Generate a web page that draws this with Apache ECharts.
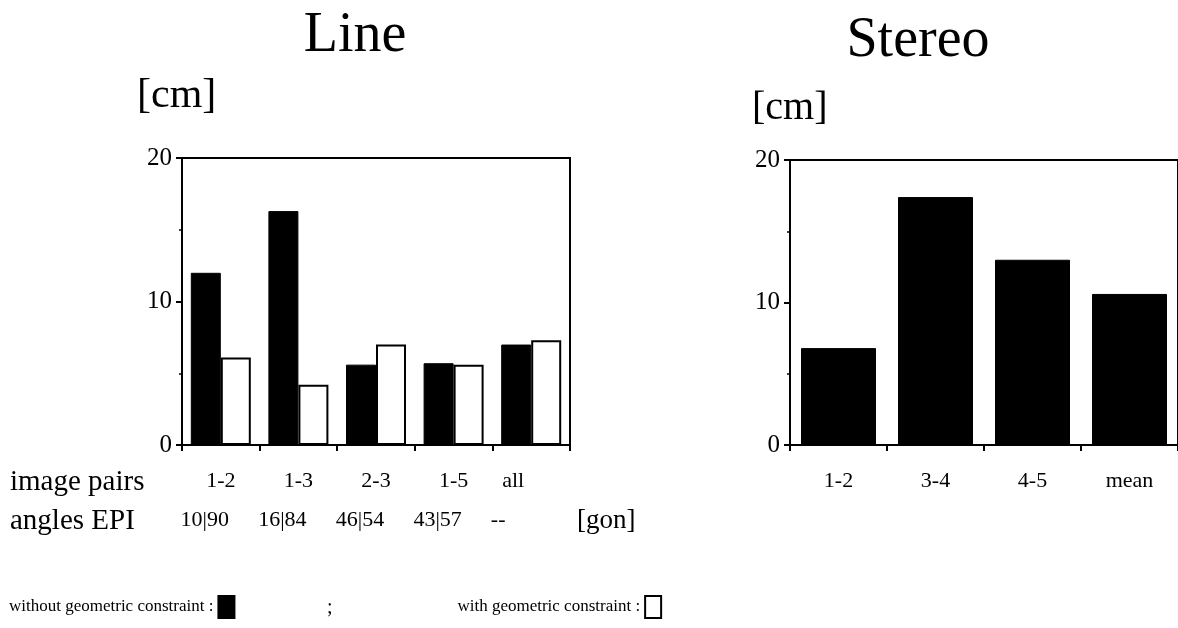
<!DOCTYPE html>
<html>
<head>
<meta charset="utf-8">
<title>Line / Stereo</title>
<script src="https://cdn.jsdelivr.net/npm/echarts@6/dist/echarts.min.js"></script>
<style>
html, body { margin: 0; padding: 0; background: #fff; }
#main { width: 1178px; height: 628px; }
</style>
</head>
<body>
<div id="main"></div>
<script>
var chart = echarts.init(document.getElementById('main'));

// Line: image pairs and their EPI angles
var linePairs = ['1-2', '1-3', '2-3', '1-5', 'all'];
var lineAngles = ['10|90', '16|84', '46|54', '43|57', '--'];
var lineWithout = [12.0, 16.3, 5.6, 5.7, 7.0];
var lineWith = [6.1, 4.2, 7.0, 5.6, 7.3];

// Stereo
var stereoPairs = ['1-2', '3-4', '4-5', 'mean'];
var stereoWithout = [6.8, 17.4, 13.0, 10.6];

var nameWithout = 'without geometric constraint';
var nameWith = 'with geometric constraint';

var serif = "'Liberation Serif', 'Times New Roman', serif";

// y axis, same for both panels
function yAxisFor(idx) {
  return {
    type: 'value',
    gridIndex: idx,
    min: 0,
    max: 20,
    interval: 10,
    splitLine: { show: false },
    axisLine: { show: true, lineStyle: { color: '#000', width: 2 } },
    axisTick: { show: true, length: 6, lineStyle: { color: '#000', width: 2 } },
    minorTick: { show: true, splitNumber: 2, length: 3, lineStyle: { color: '#000', width: 1.5 } },
    axisLabel: {
      color: '#000',
      fontFamily: serif,
      fontSize: 25,
      margin: 10,
      padding: [0, 0, 12, 0]
    }
  };
}

function xAxisFor(idx, cats) {
  return {
    type: 'category',
    gridIndex: idx,
    data: cats,
    axisLine: { show: true, lineStyle: { color: '#000', width: 2 } },
    axisTick: { show: true, length: 6, lineStyle: { color: '#000', width: 2 } },
    axisLabel: {
      color: '#000',
      fontFamily: serif,
      fontSize: 22,
      lineHeight: 39,
      margin: 17,
      interval: 0,
      formatter: function (val, i) {
        // the last column is printed a bit to the left in the original
        var top = val === 'all' ? 'c' : 'a';
        if (idx === 0) {
          var bot = lineAngles[i] === '--' ? 'd' : 'b';
          return '{' + top + '|' + val + '}\n{' + bot + '|' + lineAngles[i] + '}';
        }
        return '{a|' + val + '}';
      },
      rich: {
        a: { fontFamily: serif, fontSize: 22, lineHeight: 39, color: '#000' },
        b: { fontFamily: serif, fontSize: 22, lineHeight: 39, color: '#000', padding: [0, 32, 0, 0] },
        c: { fontFamily: serif, fontSize: 22, lineHeight: 39, color: '#000', padding: [0, 36, 0, 0] },
        d: { fontFamily: serif, fontSize: 22, lineHeight: 39, color: '#000', padding: [0, 66, 0, 0] }
      }
    }
  };
}

function txt(str, x, y, size, align) {
  return {
    type: 'text',
    x: x,
    y: y,
    silent: true,
    style: {
      text: str,
      fontFamily: serif,
      fontSize: size,
      fill: '#000',
      align: align || 'left',
      verticalAlign: 'middle'
    }
  };
}

var option = {
  animation: false,
  backgroundColor: '#fff',
  grid: [
    { left: 182, top: 158, width: 388, height: 287, show: true, borderColor: '#000', borderWidth: 2 },
    { left: 790, top: 160, width: 388, height: 285, show: true, borderColor: '#000', borderWidth: 2 }
  ],
  xAxis: [xAxisFor(0, linePairs), xAxisFor(1, stereoPairs)],
  yAxis: [yAxisFor(0), yAxisFor(1)],
  legend: {
    left: 4,
    top: 590,
    align: 'right',
    icon: 'rect',
    itemWidth: 16,
    itemHeight: 22,
    itemGap: 222,
    selectedMode: false,
    formatter: function (name) { return name + ' :'; },
    textStyle: { fontFamily: serif, fontSize: 17, color: '#000' },
    data: [nameWithout, nameWith]
  },
  graphic: [
    txt('Line', 355, 36, 56, 'center'),
    txt('Stereo', 918, 41, 56, 'center'),
    txt('[cm]', 137, 96, 42),
    txt('[cm]', 752, 108, 40),
    txt('image pairs', 10, 482, 29),
    txt('angles EPI', 10, 521, 29),
    txt('[gon]', 577, 521, 27),
    txt(';', 327, 608, 20)
  ],
  series: [
    {
      name: nameWithout,
      type: 'bar',
      xAxisIndex: 0,
      yAxisIndex: 0,
      barWidth: 30,
      barGap: '0%',
      itemStyle: { color: '#000', borderColor: '#000', borderWidth: 1 },
      data: lineWithout
    },
    {
      name: nameWith,
      type: 'bar',
      xAxisIndex: 0,
      yAxisIndex: 0,
      barWidth: 30,
      barGap: '0%',
      itemStyle: { color: '#fff', borderColor: '#000', borderWidth: 2 },
      data: lineWith
    },
    {
      name: nameWithout,
      type: 'bar',
      xAxisIndex: 1,
      yAxisIndex: 1,
      barWidth: 75,
      itemStyle: { color: '#000', borderColor: '#000', borderWidth: 1 },
      data: stereoWithout
    }
  ]
};

chart.setOption(option);
</script>
</body>
</html>
